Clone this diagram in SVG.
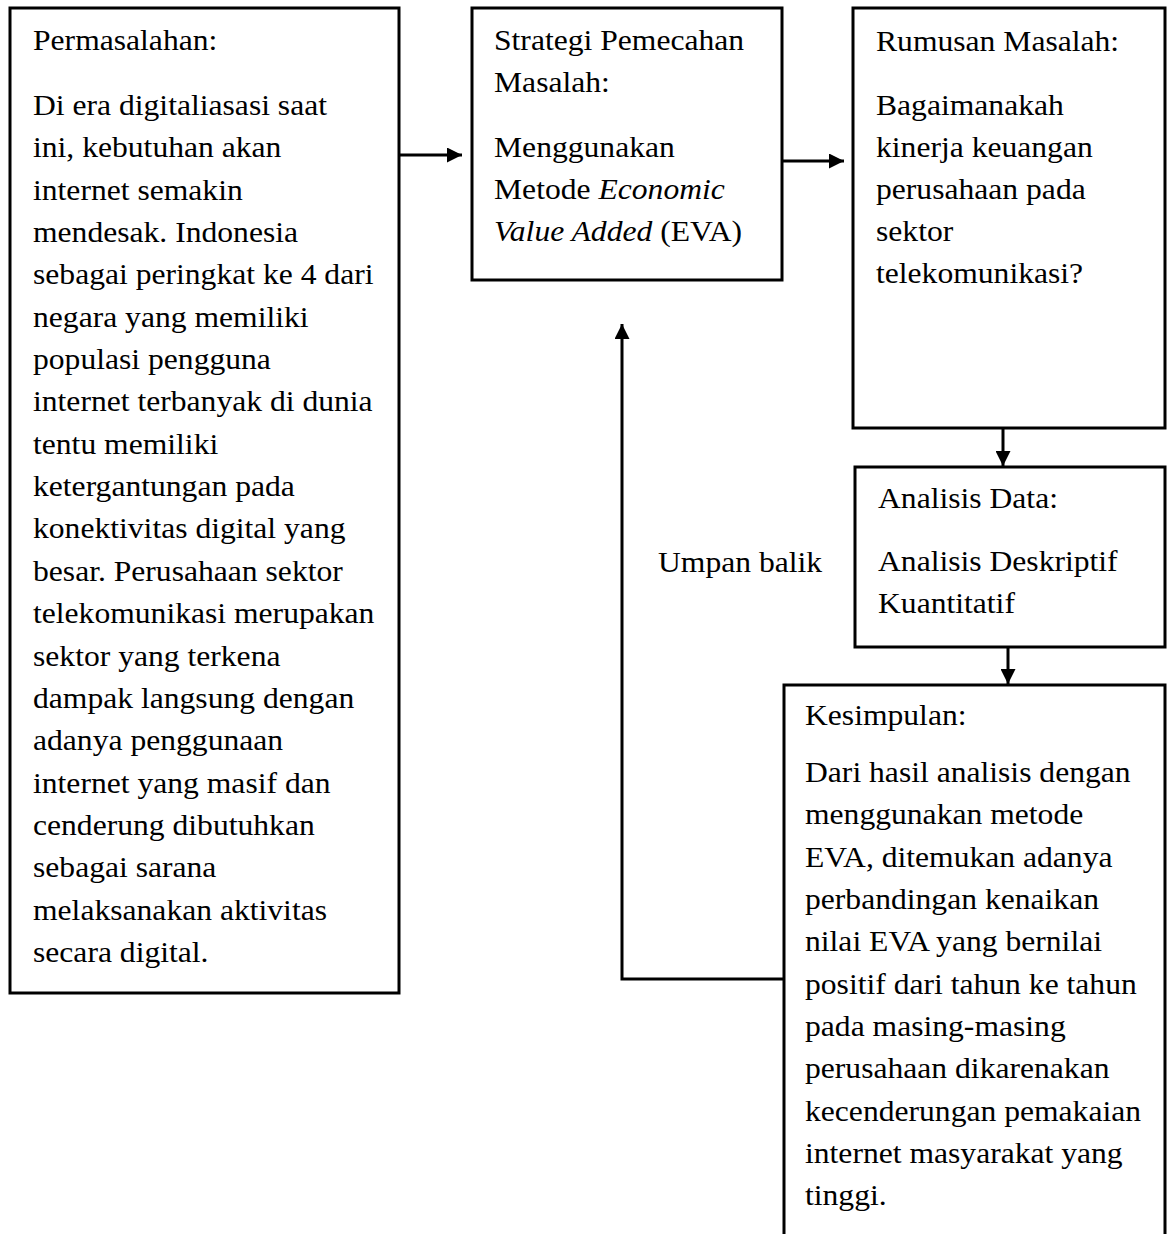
<svg xmlns="http://www.w3.org/2000/svg" width="1169" height="1234" viewBox="0 0 1169 1234">
<defs>
<style>
.box{fill:#fff;stroke:#000;stroke-width:3}
.t{font-family:"Liberation Serif","Times New Roman",serif;font-size:29px;fill:#000}
.c{fill:none;stroke:#000;stroke-width:3}
.i{font-style:italic}
</style>
<marker id="ah" viewBox="0 0 15 15" refX="15" refY="7.5" markerWidth="15" markerHeight="15" markerUnits="userSpaceOnUse" orient="auto">
<path d="M0,0 L15,7.5 L0,15 z" fill="#000"/>
</marker>
</defs>
<rect width="1169" height="1234" fill="#fff"/>
<g id="connectors">
<line class="c" x1="399" y1="155" x2="462" y2="155" marker-end="url(#ah)"/>
<line class="c" x1="782" y1="161" x2="844" y2="161" marker-end="url(#ah)"/>
<line class="c" x1="1003" y1="428" x2="1003" y2="466" marker-end="url(#ah)"/>
<line class="c" x1="1008" y1="647" x2="1008" y2="684" marker-end="url(#ah)"/>
<polyline class="c" points="784,979 622,979 622,324" marker-end="url(#ah)"/>
</g>
<g id="permasalahan">
<rect class="box" x="10" y="8" width="389" height="985"/>
<g class="t" transform="translate(33,0) scale(1.09,1)">
<text y="50">Permasalahan:</text>
<text y="115">Di era digitaliasasi saat</text>
<text y="157.35">ini, kebutuhan akan</text>
<text y="199.7">internet semakin</text>
<text y="242.05">mendesak. Indonesia</text>
<text y="284.4">sebagai peringkat ke 4 dari</text>
<text y="326.75">negara yang memiliki</text>
<text y="369.1">populasi pengguna</text>
<text y="411.45">internet terbanyak di dunia</text>
<text y="453.8">tentu memiliki</text>
<text y="496.15">ketergantungan pada</text>
<text y="538.5">konektivitas digital yang</text>
<text y="580.85">besar. Perusahaan sektor</text>
<text y="623.2">telekomunikasi merupakan</text>
<text y="665.55">sektor yang terkena</text>
<text y="707.9">dampak langsung dengan</text>
<text y="750.25">adanya penggunaan</text>
<text y="792.6">internet yang masif dan</text>
<text y="834.95">cenderung dibutuhkan</text>
<text y="877.3">sebagai sarana</text>
<text y="919.65">melaksanakan aktivitas</text>
<text y="962">secara digital.</text>
</g>
</g>
<g id="strategi">
<rect class="box" x="472" y="8" width="310" height="272"/>
<g class="t" transform="translate(494,0) scale(1.09,1)">
<text y="50">Strategi Pemecahan</text>
<text y="92">Masalah:</text>
<text y="157">Menggunakan</text>
<text y="199">Metode <tspan class="i">Economic</tspan></text>
<text y="241"><tspan class="i">Value Added</tspan> (EVA)</text>
</g>
</g>
<g id="rumusan">
<rect class="box" x="853" y="8" width="312" height="420"/>
<g class="t" transform="translate(876,0) scale(1.09,1)">
<text y="51">Rumusan Masalah:</text>
<text y="115">Bagaimanakah</text>
<text y="157">kinerja keuangan</text>
<text y="199">perusahaan pada</text>
<text y="241">sektor</text>
<text y="283">telekomunikasi?</text>
</g>
</g>
<g id="analisis">
<rect class="box" x="855" y="467" width="310" height="180"/>
<g class="t" transform="translate(878,0) scale(1.09,1)">
<text y="508">Analisis Data:</text>
<text y="571">Analisis Deskriptif</text>
<text y="613">Kuantitatif</text>
</g>
</g>
<g id="kesimpulan">
<path class="box" d="M784,1240 L784,685 L1165,685 L1165,1240"/>
<g class="t" transform="translate(805,0) scale(1.09,1)">
<text y="725">Kesimpulan:</text>
<text y="782">Dari hasil analisis dengan</text>
<text y="824.35">menggunakan metode</text>
<text y="866.7">EVA, ditemukan adanya</text>
<text y="909.05">perbandingan kenaikan</text>
<text y="951.4">nilai EVA yang bernilai</text>
<text y="993.75">positif dari tahun ke tahun</text>
<text y="1036.1">pada masing-masing</text>
<text y="1078.45">perusahaan dikarenakan</text>
<text y="1120.8">kecenderungan pemakaian</text>
<text y="1163.15">internet masyarakat yang</text>
<text y="1205.5">tinggi.</text>
</g>
</g>
<g id="umpan-balik">
<text class="t" transform="translate(658,572) scale(1.09,1)">Umpan balik</text>
</g>
</svg>
